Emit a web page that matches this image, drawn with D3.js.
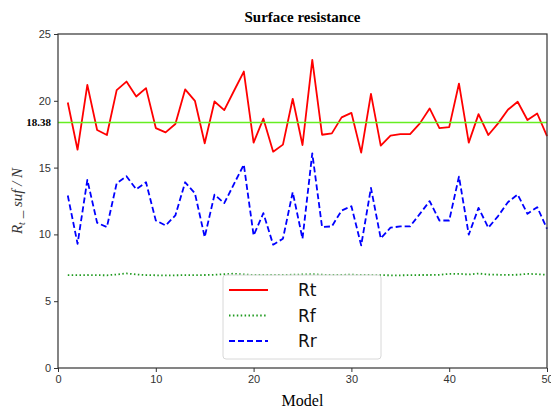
<!DOCTYPE html>
<html>
<head>
<meta charset="utf-8">
<script src="https://cdn.jsdelivr.net/npm/d3@7"></script>
<style>
  body { margin: 0; background: #fff; }
  svg { display: block; }
</style>
</head>
<body>
<svg id="canvas" width="551" height="412"></svg>
<script>
const models = d3.range(1, 51);
const rt = [19.87, 16.34, 21.19, 17.81, 17.44, 20.8, 21.44, 20.32, 20.95, 17.96,
  17.64, 18.26, 20.85, 20.0, 16.82, 19.95, 19.3, 20.75, 22.19, 16.87,
  18.66, 16.19, 16.72, 20.15, 16.69, 23.06, 17.46, 17.56, 18.76, 19.1,
  16.12, 20.52, 16.64, 17.39, 17.51, 17.51, 18.31, 19.43, 17.96, 18.03,
  21.29, 16.87, 19.0, 17.44, 18.31, 19.33, 19.93, 18.56, 19.05, 17.36];
const rf = [6.95, 6.95, 6.96, 6.95, 6.94, 7.0, 7.08, 7.0, 6.96, 6.94,
  6.93, 6.94, 6.95, 6.95, 6.96, 6.98, 7.02, 7.06, 7.0, 6.96,
  6.96, 6.96, 6.97, 6.98, 7.0, 7.02, 6.98, 6.96, 6.97, 6.99,
  6.96, 6.96, 6.95, 6.94, 6.94, 6.95, 6.96, 6.96, 6.98, 7.04,
  7.05, 7.0, 7.07, 7.0, 6.98, 6.97, 6.98, 7.05, 7.02, 6.98];
const rr = [12.91, 9.3, 14.08, 10.87, 10.55, 13.83, 14.35, 13.38, 13.9, 11.04,
  10.67, 11.42, 13.9, 13.08, 9.8, 12.97, 12.34, 13.78, 15.22, 9.93,
  11.59, 9.23, 9.68, 13.16, 9.68, 16.07, 10.55, 10.6, 11.79, 12.11,
  9.18, 13.48, 9.7, 10.5, 10.6, 10.6, 11.54, 12.49, 11.04, 11.04,
  14.33, 9.98, 11.99, 10.5, 11.37, 12.41, 12.99, 11.54, 12.04, 10.42];
const meanLine = 18.38;
const xTicks = [0, 10, 20, 30, 40, 50];
const yTicks = [0, 5, 10, 15, 20, 25];

const series = [
  { name: 'Rt', values: rt, color: '#ff0000', dash: null, width: 1.8 },
  { name: 'Rf', values: rf, color: '#1f9a1f', dash: '1.5,2.4', width: 1.8 },
  { name: 'Rr', values: rr, color: '#0000ff', dash: '6,3', width: 1.8 }
];

const plotL = 58, plotR = 547, plotT = 34, plotB = 368;
const svg = d3.select('#canvas');

const x = d3.scaleLinear().domain([0, 50]).range([plotL, plotR]);
const y = d3.scaleLinear().domain([0, 25]).range([plotB, plotT]);

// lines
const line = d3.line().x((d, i) => x(models[i])).y(d => y(d));
series.forEach(s => {
  svg.append('path')
    .attr('d', line(s.values))
    .attr('fill', 'none')
    .attr('stroke', s.color)
    .attr('stroke-width', s.width)
    .attr('stroke-dasharray', s.dash)
    .attr('stroke-linejoin', 'round');
});

// mean line
svg.append('line')
  .attr('x1', x(0)).attr('x2', x(50))
  .attr('y1', y(meanLine)).attr('y2', y(meanLine))
  .attr('stroke', '#66ee22')
  .attr('stroke-width', 1.5);

// axes
const xAxis = svg.append('g')
  .attr('transform', `translate(0,${plotB})`)
  .call(d3.axisBottom(x).tickValues(xTicks).tickSize(4).tickPadding(3));
const yAxis = svg.append('g')
  .attr('transform', `translate(${plotL},0)`)
  .call(d3.axisLeft(y).tickValues(yTicks).tickSize(4).tickPadding(3));
[xAxis, yAxis].forEach(a => {
  a.select('.domain').remove();
  a.selectAll('line').attr('stroke', '#333');
  a.selectAll('text')
    .attr('fill', '#333')
    .style('font-family', '"Liberation Sans", Arial, sans-serif')
    .style('font-size', '11px');
});

svg.append('rect')
  .attr('x', plotL).attr('y', plotT)
  .attr('width', plotR - plotL).attr('height', plotB - plotT)
  .attr('fill', 'none')
  .attr('stroke', '#333')
  .attr('stroke-width', 1.2);

svg.append('text')
  .attr('x', plotL - 7).attr('y', y(meanLine) + 4)
  .attr('text-anchor', 'end')
  .style('font-family', '"Liberation Serif", "Times New Roman", serif')
  .style('font-weight', 'bold')
  .style('font-size', '11px')
  .text(meanLine.toFixed(2));

// title and labels
svg.append('text')
  .attr('x', (plotL + plotR) / 2).attr('y', 22)
  .attr('text-anchor', 'middle')
  .style('font-family', '"Liberation Serif", "Times New Roman", serif')
  .style('font-weight', 'bold')
  .style('font-size', '15px')
  .text('Surface resistance');

svg.append('text')
  .attr('x', (plotL + plotR) / 2).attr('y', 406)
  .attr('text-anchor', 'middle')
  .style('font-family', '"Liberation Serif", "Times New Roman", serif')
  .style('font-size', '16px')
  .text('Model');

const ylab = svg.append('text')
  .attr('transform', `translate(22,${(plotT + plotB) / 2}) rotate(-90)`)
  .attr('text-anchor', 'middle')
  .style('font-family', '"Liberation Serif", "Times New Roman", serif')
  .style('font-style', 'italic')
  .style('font-size', '15px')
  .attr('fill', '#333');
ylab.append('tspan').text('R');
ylab.append('tspan').attr('dy', 3).style('font-size', '10px').text('t');
ylab.append('tspan').attr('dy', -3).text(' _ suf / N');

// legend
const legend = svg.append('g');
legend.append('rect')
  .attr('x', 223).attr('y', 275)
  .attr('width', 158).attr('height', 84)
  .attr('rx', 3)
  .attr('fill', 'white').attr('fill-opacity', 0.8)
  .attr('stroke', '#d8d8d8');
series.forEach((s, i) => {
  const ly = 290 + i * 25.5;
  legend.append('line')
    .attr('x1', 229).attr('x2', 268)
    .attr('y1', ly).attr('y2', ly)
    .attr('stroke', s.color)
    .attr('stroke-width', s.width)
    .attr('stroke-dasharray', s.dash);
  legend.append('text')
    .attr('x', 298).attr('y', ly + 6)
    .style('font-family', '"DejaVu Sans", sans-serif')
    .style('font-size', '17px')
    .attr('fill', '#111')
    .text(s.name);
});
</script>
</body>
</html>
